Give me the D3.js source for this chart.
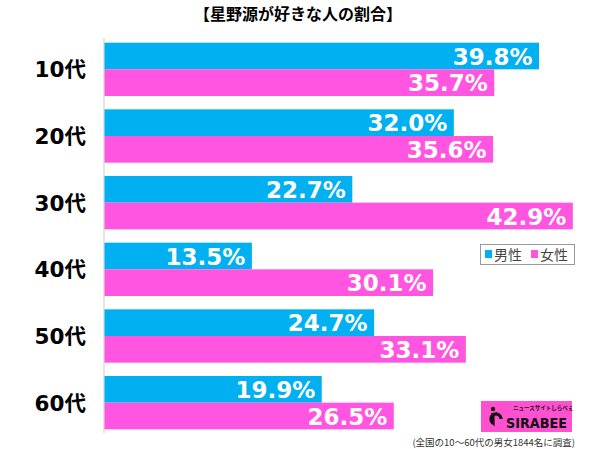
<!DOCTYPE html>
<html><head><meta charset="utf-8">
<script src="https://cdn.jsdelivr.net/npm/d3@7"></script>
<style>body{margin:0;background:#fff}svg{display:block}</style>
</head><body>
<script>
const categories = ["10代","20代","30代","40代","50代","60代"];
const male = [39.8, 32.0, 22.7, 13.5, 24.7, 19.9];
const female = [35.7, 35.6, 42.9, 30.1, 33.1, 26.5];
const seriesNames = ["男性","女性"];
const colors = ["#00b0f0","#ff55e0"];
const title = "【星野源が好きな人の割合】";
const note = "(全国の10〜60代の男女1844名に調査)";

const W=600,H=449;
const svg=d3.select("body").append("svg").attr("width",W).attr("height",H);
const x0=104;
const x=d3.scaleLinear().domain([0,39.8]).range([x0,538.5]);
const y=d3.scaleBand().domain(categories).range([36,436]).paddingInner(0.2).paddingOuter(0.1);
const jp="'Noto Sans CJK JP','Noto Sans',sans-serif";

svg.append("text").attr("x",298).attr("y",20).attr("text-anchor","middle")
  .attr("font-family",jp).attr("font-weight","bold").attr("font-size",16).text(title);

svg.append("line").attr("x1",x0).attr("x2",x0).attr("y1",38).attr("y2",433).attr("stroke","#ccc").attr("stroke-width",1);

const data=categories.map((c,i)=>({c,m:male[i],f:female[i]}));
const g=svg.selectAll("g.row").data(data).join("g");
const bh=y.bandwidth()/2;
[["m",0],["f",1]].forEach(([k,j])=>{
  g.append("rect").attr("x",x0+0.5).attr("y",d=>y(d.c)+j*bh).attr("width",d=>x(d[k])-x0)
    .attr("height",bh).attr("fill",colors[j]);
  g.append("text").attr("x",d=>x(d[k])-6).attr("y",d=>y(d.c)+j*bh+bh/2+8.5)
    .attr("text-anchor","end").attr("fill","#fff").attr("font-family","'DejaVu Sans',sans-serif")
    .attr("font-weight","bold").attr("font-size",23).text(d=>d[k].toFixed(1)+"%");
});
g.append("text").attr("x",86).attr("y",d=>y(d.c)+bh+8).attr("text-anchor","end")
  .attr("font-family","'DejaVu Sans','Noto Sans CJK JP',sans-serif").attr("font-weight","bold").attr("font-size",21.5).text(d=>d.c);

// legend
const lg=svg.append("g");
lg.append("rect").attr("x",480.5).attr("y",244.5).attr("width",94).attr("height",20).attr("fill","#fff").attr("stroke","#999");
seriesNames.forEach((s,i)=>{
  const lx=485+i*46;
  lg.append("rect").attr("x",lx).attr("y",250).attr("width",7).attr("height",8).attr("fill",colors[i]);
  lg.append("text").attr("x",lx+9).attr("y",260).attr("font-family",jp).attr("font-size",14).attr("fill","#444").text(s);
});

// logo
const lo=svg.append("g");
lo.append("rect").attr("x",481).attr("y",401).attr("width",91).attr("height",31).attr("fill","#ff50d0");
lo.append("circle").attr("cx",493).attr("cy",409).attr("r",2.2).attr("fill","#111");
lo.append("path").attr("d","M493,413 L493,423 A5,5 0 1 1 501,419").attr("fill","none").attr("stroke","#111").attr("stroke-width",3.2);
lo.append("text").attr("x",506).attr("y",428).attr("font-family","'DejaVu Sans',sans-serif").attr("font-weight","bold").attr("font-size",14).attr("textLength",61).attr("lengthAdjust","spacingAndGlyphs").attr("fill","#111").text("SIRABEE");
lo.append("text").attr("x",513).attr("y",410).attr("font-family",jp).attr("font-weight","bold").attr("font-size",5.5).attr("fill","#111").text("ニュースサイトしらべぇ");

svg.append("text").attr("x",575).attr("y",446).attr("text-anchor","end").attr("font-family",jp).attr("font-size",9.5).attr("fill","#333").text(note);
</script>
</body></html>
